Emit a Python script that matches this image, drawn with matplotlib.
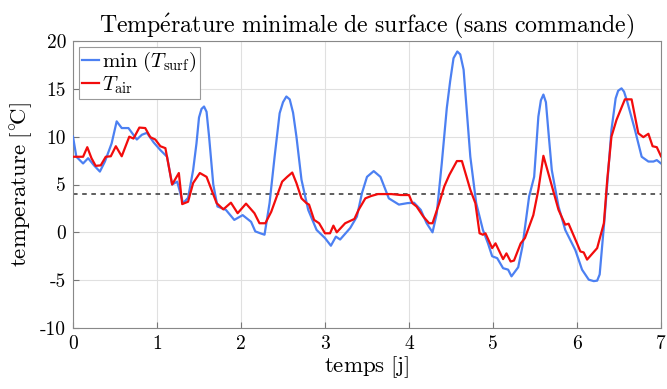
import numpy as np
import matplotlib
matplotlib.use("Agg")
import matplotlib.pyplot as plt

plt.rcParams['mathtext.fontset'] = 'cm'
plt.rcParams['font.family'] = 'serif'
plt.rcParams['font.serif'] = ['cmr10']
plt.rcParams['axes.formatter.use_mathtext'] = True

# Data (time in days, temperatures in °C)
t_surf = [0.0, 0.04, 0.12, 0.18, 0.25, 0.32, 0.38, 0.46, 0.52, 0.58, 0.66, 0.76, 0.82, 0.88,
          0.96, 1.04, 1.12, 1.18, 1.24, 1.31, 1.37, 1.43, 1.47, 1.50, 1.53, 1.56, 1.59, 1.62,
          1.67, 1.72, 1.82,
          1.92, 2.02, 2.12, 2.17, 2.23, 2.28, 2.34, 2.40, 2.46, 2.50, 2.54, 2.58, 2.62, 2.66,
          2.72, 2.80,
          2.90, 3.00, 3.07, 3.13, 3.18, 3.30, 3.38, 3.44, 3.50, 3.58, 3.66, 3.76, 3.88, 3.98,
          4.06, 4.14, 4.21, 4.28, 4.33, 4.39, 4.45, 4.49, 4.53, 4.575, 4.61, 4.65, 4.69, 4.73,
          4.80, 4.88,
          4.94, 4.99, 5.05, 5.12, 5.18, 5.22, 5.30, 5.35, 5.43, 5.49, 5.54, 5.57, 5.60, 5.63,
          5.66, 5.70,
          5.78, 5.86, 5.98, 6.06, 6.14, 6.20, 6.24, 6.27, 6.33, 6.41, 6.46, 6.49, 6.53, 6.56,
          6.60, 6.69, 6.77, 6.85, 6.91, 6.95, 7.0]
T_surf = [10.0, 7.9, 7.2, 7.75, 7.0, 6.35, 7.4, 9.3, 11.6, 10.9, 10.9, 9.7, 10.2, 10.4,
          9.4, 8.6, 7.9, 5.0, 5.3, 3.05, 3.6, 6.5, 9.3, 12.0, 12.9, 13.15, 12.6, 10.0,
          5.0, 2.7, 2.35,
          1.3, 1.8, 1.1, 0.1, -0.1, -0.25, 3.05, 7.9, 12.45, 13.6, 14.2, 13.9, 12.5, 10.0,
          5.5, 2.35,
          0.25, -0.6, -1.4, -0.45, -0.75, 0.45, 1.65, 4.1, 5.8, 6.4, 5.8, 3.55, 2.9, 3.05,
          3.1, 2.35, 0.95, 0.0, 1.95, 7.2, 13.0, 15.8, 18.2, 18.9, 18.6, 17.0, 12.45, 7.9,
          3.05, 0.25,
          -1.15, -2.5, -2.7, -3.75, -3.9, -4.6, -3.65, -1.5, 3.75, 5.8, 12.1, 13.8, 14.4, 13.6,
          10.5, 6.5,
          2.7, 0.25, -1.85, -3.9, -4.95, -5.1, -5.05, -4.4, 1.65, 10.7, 14.0, 14.8, 15.05, 14.7,
          13.6, 10.7, 7.9, 7.4, 7.4, 7.55, 7.2]

t_air = [0.0, 0.12, 0.17, 0.22, 0.27, 0.33, 0.39, 0.45, 0.51, 0.58, 0.67, 0.72, 0.79, 0.86,
         0.92, 0.98, 1.04, 1.10, 1.18, 1.26, 1.30, 1.37, 1.43, 1.51, 1.59, 1.71, 1.79, 1.88,
         1.96, 2.06, 2.16, 2.22, 2.29, 2.36, 2.44, 2.49, 2.55, 2.61, 2.66, 2.72, 2.78, 2.81,
         2.87, 2.93, 3.00, 3.06, 3.10, 3.14, 3.24, 3.35, 3.40, 3.48, 3.55, 3.63, 3.79, 3.90,
         4.00, 4.04, 4.09, 4.17, 4.24, 4.28, 4.36, 4.42, 4.48, 4.57, 4.63, 4.73, 4.79, 4.84,
         4.88, 4.91, 4.99, 5.03, 5.12, 5.16, 5.21, 5.25, 5.33, 5.38, 5.48, 5.54, 5.60, 5.68,
         5.78, 5.86, 5.90, 6.00, 6.04, 6.08, 6.12, 6.24, 6.32, 6.36, 6.41, 6.47, 6.57, 6.65,
         6.73, 6.79, 6.85, 6.90, 6.95, 7.0]
T_air = [7.9, 7.9, 8.9, 7.75, 6.95, 7.0, 7.9, 7.95, 9.0, 7.95, 10.0, 9.8, 10.95, 10.9,
         9.95, 9.7, 9.0, 8.8, 5.0, 6.2, 2.95, 3.2, 5.15, 6.2, 5.8, 3.05, 2.4, 3.1,
         2.0, 3.0, 2.0, 0.95, 0.95, 2.15, 4.1, 5.3, 5.8, 6.25, 5.15, 3.55, 3.05, 2.9,
         1.3, 0.95, -0.1, -0.1, 0.7, 0.0, 0.95, 1.4, 2.35, 3.55, 3.8, 4.0, 4.0, 3.9,
         3.9, 3.05, 2.7, 1.65, 0.95, 0.95, 3.05, 4.8, 6.0, 7.45, 7.45, 4.45, 3.05, -0.1,
         -0.25, -0.1, -1.65, -1.15, -2.8, -2.2, -3.05, -2.95, -1.15, -0.6, 1.8, 4.45, 8.0, 5.5,
         2.35, 0.8, 0.9, -1.15, -2.0, -2.1, -2.85, -1.65, 0.95, 5.5, 10.0, 11.75, 13.9, 13.9,
         10.35, 9.95, 10.3, 9.0, 8.9, 7.95]

threshold = 4.0
x_ticks = [0, 1, 2, 3, 4, 5, 6, 7]
x_ticklabels = ['0', '1', '2', '3', '4', '5', '6', '7']
y_ticks = [-10, -5, 0, 5, 10, 15, 20]
y_ticklabels = ['-10', '-5', '0', '5', '10', '15', '20']

fig = plt.figure(figsize=(6.67, 3.89), dpi=100)
ax = fig.add_axes([73/667, 1 - 328/389, (661 - 73)/667, (328 - 41)/389])

blue = '#4C80F2'
red = '#F20C0C'
ax.plot(t_surf, T_surf, color=blue, lw=1.6, label=r'$\min\ (T_\mathrm{surf})$', zorder=3)
ax.plot(t_air, T_air, color=red, lw=1.6, label=r'$T_\mathrm{air}$', zorder=4)
ax.axhline(threshold, color='#333333', lw=1.1, ls=(0, (3, 3)), zorder=2)

ax.set_xlim(0, 7)
ax.set_ylim(-10, 20)
ax.set_xticks(x_ticks)
ax.set_xticklabels(x_ticklabels)
ax.set_yticks(y_ticks)
ax.set_yticklabels(y_ticklabels)
ax.tick_params(direction='in', labelsize=14, length=4, color='#777777', pad=5)
ax.grid(True, color='#e0e0e0', lw=0.8, zorder=0)
for s in ax.spines.values():
    s.set_color('#888888')
    s.set_linewidth(0.8)

ax.set_title(r'$\mathrm{Temp\acute{e}rature\ minimale\ de\ surface\ (sans\ commande)}$',
             fontsize=17.2, pad=5)
ax.set_xlabel(r'$\mathrm{temps\ [j]}$', fontsize=16.5, labelpad=1)
ax.set_ylabel(r'$\mathrm{temperature\ [{}^{\circ}\!C]}$', fontsize=16.5, labelpad=3)

leg = ax.legend(loc='upper left', fontsize=15, handlelength=0.8, handletextpad=0.15,
                borderpad=0.15, labelspacing=0.0, borderaxespad=0.3, fancybox=False,
                framealpha=1, edgecolor='#999999')
leg.get_frame().set_linewidth(0.8)

fig.savefig('out.png', dpi=100)
